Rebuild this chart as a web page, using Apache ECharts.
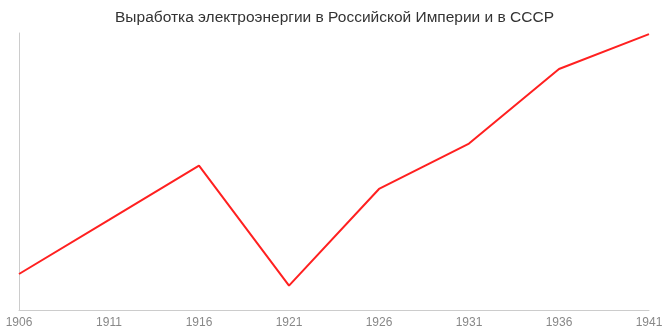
<!DOCTYPE html>
<html>
<head>
<meta charset="utf-8">
<script src="https://cdn.jsdelivr.net/npm/echarts@6/dist/echarts.min.js"></script>
<style>html,body{margin:0;padding:0;background:#fff;}#c{width:669px;height:335px;}</style>
</head>
<body>
<div id="c"></div>
<script>
var titleText = 'Выработка электроэнергии в Российской Империи и в СССР';
var years = ['1906', '1911', '1916', '1921', '1926', '1931', '1936', '1941'];
var values = [13.0, 32.5, 52.1, 8.8, 43.7, 60.1, 87.0, 99.6];

var chart = echarts.init(document.getElementById('c'), null, {renderer: 'canvas'});
chart.setOption({
  animation: false,
  backgroundColor: '#ffffff',
  title: {
    text: titleText,
    left: 'center',
    top: 5,
    textStyle: {fontFamily: '"Liberation Sans", Arial, sans-serif', fontSize: 15.5, fontWeight: 'normal', color: '#333'}
  },
  grid: {left: 19, right: 20, top: 33, bottom: 25, containLabel: false},
  xAxis: {
    type: 'category',
    data: years,
    boundaryGap: false,
    axisLine: {lineStyle: {color: '#ccc', width: 1}},
    axisTick: {show: false},
    axisLabel: {color: '#888', fontSize: 12, fontFamily: '"Liberation Sans", Arial, sans-serif', margin: 7},
    splitLine: {show: false}
  },
  yAxis: {
    type: 'value',
    min: 0,
    max: 100,
    axisLine: {show: true, lineStyle: {color: '#ccc', width: 1}},
    axisTick: {show: false},
    axisLabel: {show: false},
    splitLine: {show: false}
  },
  series: [{
    type: 'line',
    data: values,
    showSymbol: false,
    symbol: 'none',
    lineStyle: {color: '#ff2020', width: 2},
    itemStyle: {color: '#ff2020'}
  }]
});
</script>
</body>
</html>
